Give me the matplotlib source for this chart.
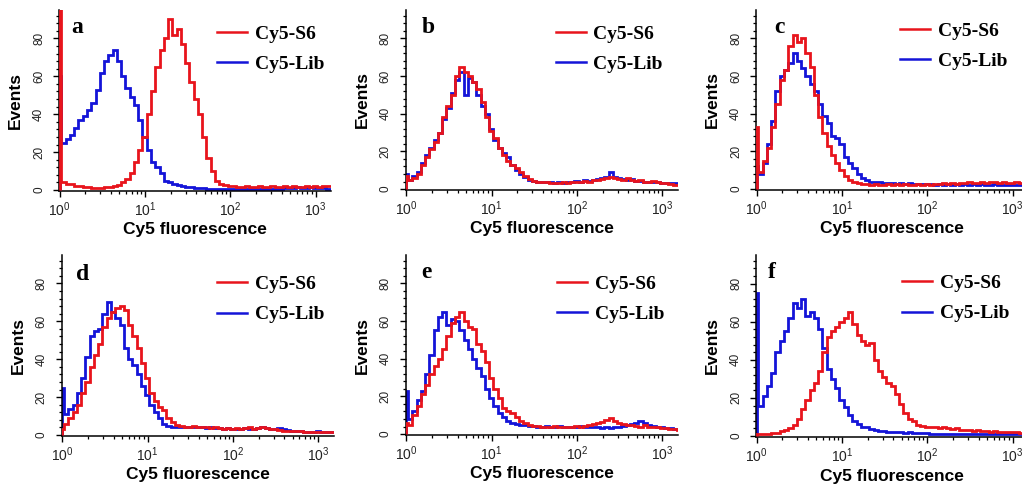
import numpy as np
import matplotlib
matplotlib.use("Agg")
import matplotlib.pyplot as plt
from matplotlib.ticker import MultipleLocator, LogLocator, LogFormatterSciNotation, NullFormatter

plt.rcParams['font.family'] = ['Liberation Sans', 'DejaVu Sans']
plt.rcParams['mathtext.default'] = 'regular'

# ---------------- data ----------------
panel_letters = ['a', 'b', 'c', 'd', 'e', 'f']
series_names = ['Cy5-S6', 'Cy5-Lib']
x_label = 'Cy5 fluorescence'
y_label = 'Events'
y_ticks = [0, 20, 40, 60, 80]

# channel edges (log10 of fluorescence); first channel is narrow
channel_edges_log = [0.0] + [0.02 + 0.05 * k for k in range(65)]

s6_a = [100, 4, 3, 3, 2, 2, 1.5, 1.5, 1, 1,
        1, 1.5, 1.5, 2, 2.5, 4, 6, 9, 15, 21,
        28, 40, 52, 65, 74, 80, 90, 82, 85, 77,
        67, 57, 48, 40, 28, 17, 10, 5, 3, 2.5,
        2, 2, 1.5, 1.5, 2, 1.5, 1.5, 2, 1.5, 1.5,
        2, 1.5, 1.5, 2, 1.5, 2, 1.5, 1.5, 2, 1.5,
        2, 1.5, 2, 2, 2]
lib_a = [60, 25, 27, 29, 33, 37, 39, 42, 46, 53,
         62, 68, 71, 74, 68, 60, 54, 49, 45, 37,
         28, 21, 15, 12, 9, 5, 4, 3, 2.5, 2,
         1.5, 1.5, 1, 1, 1, 0.8, 0.8, 0.6, 0.6, 0.5,
         0.5, 0.5, 0.5, 0.5, 0.5, 0.5, 0.5, 0.5, 0.5, 0.5,
         0.6, 0.6, 0.8, 1, 1.2, 1, 1.5, 1.2, 1, 1.5,
         1.2, 1, 1, 0.8, 0.8]

s6_b = [7, 5, 6, 8, 13, 17, 21, 25, 30, 38,
        44, 50, 60, 65, 62, 60, 57, 53, 46, 38,
        31, 27, 22, 18, 15, 13, 11, 9, 7, 5.5,
        4.5, 4, 3.5, 3.5, 3, 3, 3, 3.5, 3, 3.5,
        4, 4, 4.5, 4, 5, 5, 5.5, 6, 6.5, 6,
        5.5, 5, 6, 5, 4.5, 5, 4, 4, 4.5, 3.5,
        3, 3, 2.5, 2, 2]
lib_b = [8, 5, 7, 9, 14, 18, 22, 26, 30, 37,
         43, 51, 58, 62, 50, 59, 57, 50, 44, 40,
         32, 26, 22, 19, 17, 13, 10, 8, 6.5, 5,
         4.5, 4, 4, 3.5, 3.5, 3, 3.5, 3, 3.5, 4,
         4.5, 4, 5, 4.5, 5, 5.5, 6, 6.5, 9, 6.5,
         6, 5.5, 5, 5.5, 4.5, 4.5, 4, 4, 3.5, 3.5,
         3, 3, 3, 3, 3]

s6_c = [33, 9, 15, 22, 33, 45, 58, 63, 76, 82,
        78, 80, 72, 65, 50, 38, 30, 23, 18, 14,
        10, 7, 5, 4, 3, 2.5, 2.5, 2, 2.5, 2,
        2, 2.5, 2, 2.5, 2, 2.5, 2, 2, 2.5, 2,
        2.5, 2, 2.5, 2.5, 3, 2.5, 3, 2.5, 3, 3,
        3.5, 3, 3, 3.5, 3, 3.5, 4, 3, 3.5, 3,
        3, 3.5, 3, 2.5, 2.5]
lib_c = [12, 8, 14, 24, 36, 52, 60, 63, 67, 72,
         68, 64, 60, 56, 52, 45, 39, 35, 28, 27,
         24, 17, 14, 11, 8, 6, 5, 4, 3.5, 3.5,
         3, 3, 3, 2.5, 3, 2.5, 3, 2.5, 2.5, 2.5,
         2.5, 2.5, 2, 2.5, 2, 2.5, 2, 2.5, 2, 2.5,
         2, 2.5, 2, 2.5, 2, 2, 2.5, 2, 2, 2,
         2, 2, 2, 2, 2]

s6_d = [3, 6, 9, 12, 16, 22, 28, 36, 42, 48,
        57, 62, 65, 67, 68, 66, 58, 52, 46, 38,
        30, 22, 18, 15, 13, 9, 7, 5.5, 5, 4.5,
        4, 5, 4, 4.5, 4, 3.5, 4, 3.5, 3, 3.5,
        3, 3.5, 3, 3.5, 4, 3, 3.5, 4.5, 3.5, 3,
        3, 2.5, 2, 2, 2, 2, 2, 1.5, 1.5, 1.5,
        1.5, 1.5, 1.5, 1.5, 1.5]
lib_d = [25, 11, 14, 16, 22, 30, 41, 52, 55, 56,
         64, 70, 65, 62, 58, 46, 40, 37, 32, 26,
         21, 16, 12, 9, 6, 5, 4.5, 4, 4, 4.5,
         4, 4.5, 4, 4, 3.5, 4, 3.5, 3.5, 3, 3.5,
         3, 3, 3, 3.5, 3, 3, 3.5, 4, 3.5, 3,
         3, 3.5, 3, 2.5, 2, 2, 2, 1.5, 1.5, 1.5,
         2, 1.5, 1.5, 1.5, 1.5]

s6_e = [6, 5, 10, 15, 21, 26, 32, 36, 40, 45,
        52, 59, 62, 65, 60, 57, 56, 48, 44, 38,
        30, 24, 19, 14, 12, 11, 9, 7, 6, 5,
        4.5, 4.5, 4, 4, 4, 4.5, 4, 3.5, 4, 4,
        4.5, 4, 4.5, 5, 5.5, 6, 6.5, 7.5, 8.5, 7,
        6, 5.5, 5, 5, 4.5, 4, 5, 4, 3.5, 4,
        3, 3, 2.5, 2.5, 2]
lib_e = [23, 8, 12, 18, 23, 32, 42, 55, 62, 65,
         58, 61, 60, 55, 50, 45, 40, 35, 31, 24,
         19, 15, 11, 9, 7, 6, 5.5, 5, 5, 4.5,
         4.5, 4, 4, 4.5, 4, 4, 4.5, 4, 4, 4,
         4, 4.5, 4, 4, 3.5, 3.5, 3, 3.5, 3, 3.5,
         4, 4.5, 5, 5.5, 6, 7, 6, 5, 4.5, 4,
         3.5, 3, 3, 2.5, 2.5]

s6_f = [1, 1, 1, 1, 1.5, 1.5, 2.5, 3, 4, 6,
        9, 14, 19, 24, 28, 34, 44, 52, 55, 57,
        60, 62, 65, 59, 53, 50, 48, 49, 40, 34,
        31, 28, 26, 22, 17, 12, 9, 8, 6, 5.5,
        5, 5, 4.5, 4, 4.5, 4, 3.5, 4, 3, 3,
        3, 2.5, 3, 2.5, 2.5, 2, 2.5, 2, 2, 2,
        2, 2, 1.5, 1.5, 1.5]
lib_f = [75, 16, 21, 26, 33, 44, 50, 55, 62, 70,
         67, 72, 63, 65, 62, 56, 46, 35, 30, 25,
         19, 15, 11, 8, 6.5, 5, 4.5, 3.5, 3, 2.5,
         2.5, 2, 2, 2, 2, 1.5, 2, 1.5, 1.5, 1.5,
         1.5, 1, 1, 1, 1, 1, 1, 1, 1, 1,
         1, 1, 1, 1, 1, 1, 1, 1, 1, 1,
         1, 1, 1, 1, 1]

s6_series = [s6_a, s6_b, s6_c, s6_d, s6_e, s6_f]
lib_series = [lib_a, lib_b, lib_c, lib_d, lib_e, lib_f]

# ---------------- layout ----------------
W, H = 1022, 488
fig = plt.figure(figsize=(W / 100, H / 100), dpi=100)
fig.patch.set_facecolor('white')

axes_px = [(59, 10, 191), (405.7, 10, 190), (756, 10, 190),
           (61.7, 255, 436), (405.7, 255, 435), (756, 255, 437)]
axw = 272
legend_anchor = [(0.581, 0.917), (0.551, 0.917), (0.529, 0.933),
                 (0.571, 0.887), (0.555, 0.889), (0.536, 0.893)]
letter_pos = [(0.066, 0.873), (0.082, 0.871), (0.088, 0.871),
              (0.078, 0.862), (0.078, 0.871), (0.059, 0.871)]

red = '#e8141c'
blue = '#1414d8'
edges = 10 ** np.array(channel_edges_log)
serif = ['Liberation Serif', 'DejaVu Serif']

for i in range(6):
    l, t, b = axes_px[i]
    ax = fig.add_axes([l / W, 1 - b / H, axw / W, (b - t) / H])
    ax.stairs(lib_series[i], edges, color=blue, lw=2.0, label=series_names[1], zorder=2)
    ax.stairs(s6_series[i], edges, color=red, lw=2.0, label=series_names[0], zorder=3)
    ax.set_xscale('log')
    ax.set_xlim(10 ** -0.008, 10 ** 3.18)
    ax.set_ylim(-0.5, 95)
    for s in ['top', 'right']:
        ax.spines[s].set_visible(False)
    for s in ['left', 'bottom']:
        ax.spines[s].set_linewidth(1.1)
    ax.set_yticks(y_ticks)
    ax.yaxis.set_minor_locator(MultipleLocator(4))
    ax.xaxis.set_major_locator(LogLocator(base=10, numticks=10))
    ax.xaxis.set_minor_locator(LogLocator(base=10, subs=np.arange(2, 10), numticks=20))
    ax.xaxis.set_major_formatter(LogFormatterSciNotation())
    ax.xaxis.set_minor_formatter(NullFormatter())
    ax.tick_params(axis='y', which='major', direction='out', length=4, width=1.0,
                   labelsize=8.5, pad=6, labelcolor='#222222', labelrotation=90)
    ax.tick_params(axis='y', which='minor', direction='out', length=2.5, width=0.9)
    ax.tick_params(axis='x', which='major', direction='out', length=4, width=1.0,
                   labelsize=10, pad=2.5, labelcolor='#222222')
    ax.tick_params(axis='x', which='minor', direction='out', length=2.2, width=0.9)
    for lab in ax.get_yticklabels():
        lab.set_va('center')
    ax.set_xlabel(x_label, fontsize=12.5, fontweight='bold')
    ax.xaxis.set_label_coords(0.5, -0.215)
    ax.xaxis.label.set_va('center')
    ax.set_ylabel(y_label, fontsize=12.5, fontweight='bold')
    ax.yaxis.set_label_coords(-0.16, 0.5)
    ax.yaxis.label.set_va('center')

    handles, labels = ax.get_legend_handles_labels()
    order = [labels.index(series_names[0]), labels.index(series_names[1])]
    leg = ax.legend([handles[k] for k in order], [labels[k] for k in order],
                    loc='upper left', bbox_to_anchor=legend_anchor[i],
                    frameon=False, borderpad=0, borderaxespad=0,
                    handlelength=1.55, handletextpad=0.4, labelspacing=0.65,
                    prop={'family': serif, 'weight': 'bold', 'size': 14})
    for h in leg.legend_handles:
        h.set_linewidth(1.8)

    lx, ly = letter_pos[i]
    ax.text(lx, ly, panel_letters[i], transform=ax.transAxes, ha='center', va='baseline',
            family=serif, fontweight='bold', fontsize=17)

fig.savefig('out.png', dpi=100)
